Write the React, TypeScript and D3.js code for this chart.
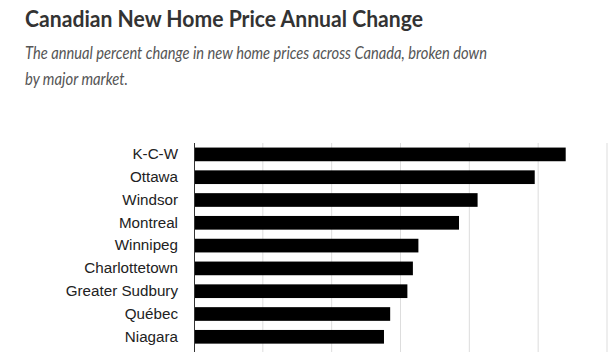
import React, { useEffect, useRef } from 'react';
import * as d3 from 'd3';

const markets = ['K-C-W', 'Ottawa', 'Windsor', 'Montreal', 'Winnipeg', 'Charlottetown', 'Greater Sudbury', 'Québec', 'Niagara'];
const changes = [5.4, 4.95, 4.12, 3.85, 3.26, 3.18, 3.1, 2.85, 2.76];
const gridTicks = [0, 1, 2, 3, 4, 5, 6];

const App: React.FC = () => {
  const svgRef = useRef<SVGSVGElement>(null);

  useEffect(() => {
    if (!svgRef.current) return;
    const svg = d3.select(svgRef.current);
    svg.selectAll('*').remove();

    const width = 609;
    const height = 352;
    const margin = { top: 143, left: 194, right: 2 };
    const plotBottom = 348.2;

    const x = d3.scaleLinear().domain([0, 6]).range([margin.left, width - margin.right]);
    const y = d3.scaleBand<string>().domain(markets).range([margin.top, plotBottom]).paddingInner(0.4).paddingOuter(0.2);

    // title + subtitle
    svg.append('text')
      .attr('x', 25).attr('y', 27)
      .attr('font-family', 'Lato')
      .attr('font-weight', 700)
      .attr('font-size', 22)
      .attr('fill', '#333')
      .attr('textLength', 398)
      .attr('lengthAdjust', 'spacingAndGlyphs')
      .text('Canadian New Home Price Annual Change');

    const sub = svg.append('text')
      .attr('font-family', 'Lato')
      .attr('font-style', 'italic')
      .attr('font-size', 17.5)
      .attr('fill', '#555');
    sub.append('tspan').attr('x', 25).attr('y', 59)
      .attr('textLength', 462).attr('lengthAdjust', 'spacingAndGlyphs')
      .text('The annual percent change in new home prices across Canada, broken down');
    sub.append('tspan').attr('x', 25).attr('y', 85)
      .attr('textLength', 103).attr('lengthAdjust', 'spacingAndGlyphs')
      .text('by major market.');

    // grid
    svg.append('g')
      .selectAll('line')
      .data(gridTicks.slice(1))
      .join('line')
      .attr('x1', d => x(d)).attr('x2', d => x(d))
      .attr('y1', margin.top).attr('y2', height)
      .attr('stroke', '#ddd')
      .attr('stroke-width', 1);

    // bars
    svg.append('g')
      .selectAll('rect')
      .data(markets)
      .join('rect')
      .attr('x', x(0))
      .attr('y', d => y(d)!)
      .attr('width', (d, i) => x(changes[i]) - x(0))
      .attr('height', y.bandwidth())
      .attr('fill', '#000');

    // y axis
    const yAxis = svg.append('g')
      .attr('transform', `translate(${x(0)},0)`)
      .call(d3.axisLeft(y).tickSize(0).tickPadding(16));
    yAxis.select('.domain').remove();
    yAxis.selectAll('text')
      .attr('font-family', 'Liberation Sans, Arial, sans-serif')
      .attr('font-size', 15.2)
      .attr('fill', '#222');

    svg.append('line')
      .attr('x1', x(0) + 0.5).attr('x2', x(0) + 0.5)
      .attr('y1', margin.top).attr('y2', height)
      .attr('stroke', '#333')
      .attr('stroke-width', 1);
  }, []);

  return (
    <div style={{ position: 'absolute', top: 0, left: 0, width: 609, height: 352, overflow: 'hidden', background: '#fff' }}>
      <svg ref={svgRef} width={609} height={352}></svg>
    </div>
  );
};

export default App;
